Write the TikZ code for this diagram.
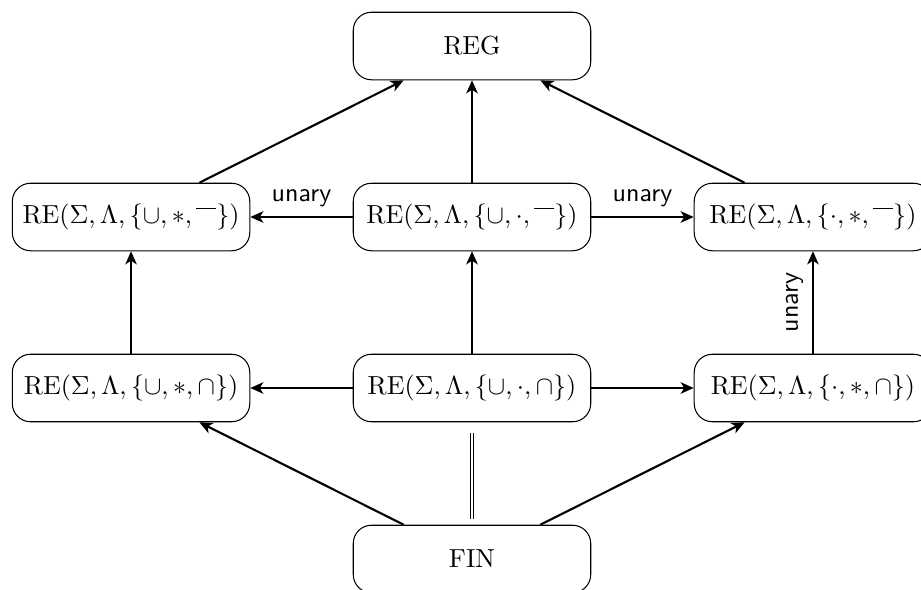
\documentclass[tikz,border=0pt]{standalone}
\usepackage{amsmath}
\usepackage{amssymb}
\usepackage{tikz}
\usetikzlibrary{shapes, positioning, quotes, arrows.meta}

\begin{document}
\begin{tikzpicture}[auto,node distance=13.8mm,>={Stealth[length=5pt,width=4.4pt,inset=1.4pt]},font=\normalsize]
    \tikzstyle{box}=[draw=black,rounded corners=7pt,minimum width=32mm,minimum height=9.1mm]
    \tikzstyle{lbl}=[font=\sffamily]

    \useasboundingbox (-6.36,0.62) rectangle (6.05,-7.32);

    \node[box] (reg) {REG};
    \node[box,below=of reg] (m1) {$\mathrm{RE}(\Sigma,\Lambda,\{\cup,\cdot,\overline{\phantom{n}\,}\})$};
    \node[box,left=of m1] (l1) {$\mathrm{RE}(\Sigma,\Lambda,\{\cup,*,\overline{\phantom{n}\,}\})$};
    \node[box,right=of m1] (r1) {$\mathrm{RE}(\Sigma,\Lambda,\{\cdot,*,\overline{\phantom{n}\,}\})$};
    \node[box,below=of m1] (m2) {$\mathrm{RE}(\Sigma,\Lambda,\{\cup,\cdot,\cap\})$};
    \node[box,left=of m2] (l2) {$\mathrm{RE}(\Sigma,\Lambda,\{\cup,*,\cap\})$};
    \node[box,right=of m2] (r2) {$\mathrm{RE}(\Sigma,\Lambda,\{\cdot,*,\cap\})$};
    \node[box,below=of m2] (fin) {FIN};

    \draw[->,thick] (l1) -- (reg);
    \draw[->,thick] (m1) -- (reg);
    \draw[->,thick] (r1) -- (reg);
    \draw[->,thick] (m1) -- node[lbl,above] {unary} (l1);
    \draw[->,thick] (m1) -- node[lbl,above] {unary} (r1);
    \draw[->,thick] (l2) -- (l1);
    \draw[->,thick] (m2) -- (m1);
    \draw[->,thick] (r2) -- node[lbl,above,sloped] {unary} (r1);
    \draw[->,thick] (m2) -- (l2);
    \draw[->,thick] (m2) -- (r2);
    \draw[->,thick] (fin) -- (l2);
    \draw[->,thick] (fin) -- (r2);
    \draw[double,double distance=1pt,shorten <=4pt,shorten >=2pt] (m2) -- (fin);
\end{tikzpicture}
\end{document}
